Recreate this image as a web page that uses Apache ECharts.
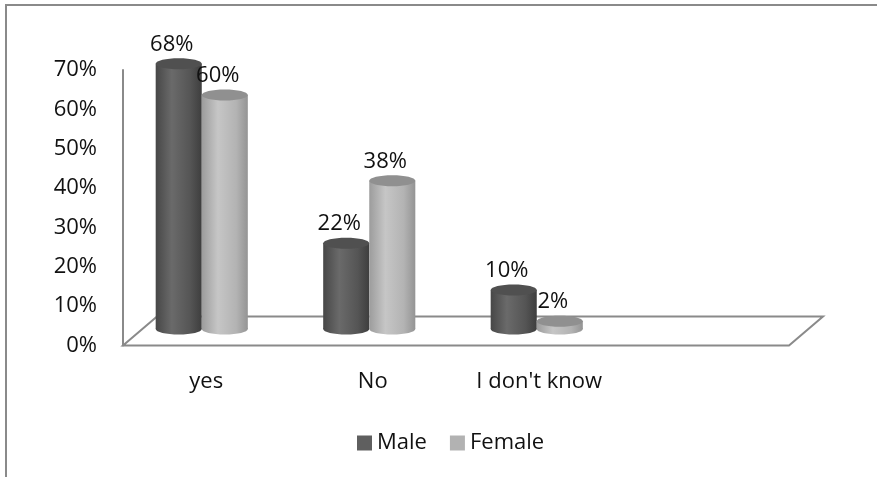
<!DOCTYPE html>
<html>
<head>
<meta charset="utf-8">
<script src="https://cdn.jsdelivr.net/npm/echarts@6/dist/echarts.min.js"></script>
<style>
  html, body { margin: 0; padding: 0; background: #fff; }
  #chart { width: 877px; height: 477px; }
</style>
</head>
<body>
<div id="chart"></div>
<script>
const categories = ['yes', 'No', "I don't know", ''];
const maleValues = [68, 22, 10];
const femaleValues = [60, 38, 2];
const yMin = 0, yMax = 70, yStep = 10;

const FONT = 'Open Sans';
const FS = 22;
const frameColor = '#8a8a8a';

// front plane carries the axes, cylinders stand a bit deeper
const front = { left: 123, right: 88, top: 70, bottom: 131.5 };
const depth = { dx: 34, dy: -29 };
const back = { left: 118, right: 89, top: 56, bottom: 148 };

function cylinderItem(side, stops, capColor) {
    return function (params, api) {
        const cat = api.value(0);
        const val = api.value(1);
        const top = api.coord([cat, val]);
        const base = api.coord([cat, 0]);
        const band = api.size([1, 0])[0];
        const w = band * 0.275;
        const cx = top[0] + side * w / 2;
        const ry = 5.5;
        const grad = { type: 'linear', x: 0, y: 0, x2: 1, y2: 0, colorStops: stops };
        return {
            type: 'group',
            children: [
                { type: 'ellipse', shape: { cx: cx, cy: base[1], rx: w / 2, ry: ry }, style: { fill: grad } },
                { type: 'rect', shape: { x: cx - w / 2, y: top[1], width: w, height: base[1] - top[1] }, style: { fill: grad } },
                { type: 'ellipse', shape: { cx: cx, cy: top[1], rx: w / 2, ry: ry }, style: { fill: capColor } },
                {
                    type: 'text', z2: 10,
                    style: {
                        text: val + '%', x: cx - 7, y: top[1] - 19,
                        align: 'center', verticalAlign: 'middle',
                        font: FS + 'px "' + FONT + '"', fill: '#111'
                    }
                }
            ]
        };
    };
}

const maleStops = [
    { offset: 0, color: '#474747' },
    { offset: 0.35, color: '#6a6a6a' },
    { offset: 0.75, color: '#555555' },
    { offset: 1, color: '#3e3e3e' }
];
const femaleStops = [
    { offset: 0, color: '#9c9c9c' },
    { offset: 0.35, color: '#c6c6c6' },
    { offset: 0.75, color: '#b3b3b3' },
    { offset: 1, color: '#949494' }
];

const fl = front.left, fr = 877 - front.right, fy = 477 - front.bottom;

const chart = echarts.init(document.getElementById('chart'), null, { renderer: 'canvas' });

chart.setOption({
    animation: false,
    backgroundColor: '#fff',
    textStyle: { fontFamily: FONT },
    graphic: [
        {
            type: 'rect', z: 0, silent: true,
            shape: { x: 6, y: 5, width: 900, height: 500 },
            style: { fill: 'none', stroke: frameColor, lineWidth: 2 }
        },
        {
            type: 'polygon', z: 0, silent: true,
            shape: { points: [[fl, fy], [fr, fy], [fr + depth.dx, fy + depth.dy], [fl + depth.dx, fy + depth.dy]] },
            style: { fill: 'none', stroke: frameColor, lineWidth: 2 }
        }
    ],
    legend: {
        data: ['Male', 'Female'],
        left: 352, top: 427,
        icon: 'rect', itemWidth: 15, itemHeight: 15, itemGap: 23,
        textStyle: { fontSize: FS, color: '#111', fontFamily: FONT }
    },
    grid: [
        { left: front.left, right: front.right, top: front.top, bottom: front.bottom },
        { left: back.left, right: back.right, top: back.top, bottom: back.bottom }
    ],
    xAxis: [
        {
            type: 'category', gridIndex: 0, data: categories,
            axisLine: { show: false }, axisTick: { show: false },
            axisLabel: { fontSize: FS, color: '#111', margin: 25, fontFamily: FONT }
        },
        { type: 'category', gridIndex: 1, data: categories, show: false }
    ],
    yAxis: [
        {
            type: 'value', gridIndex: 0, min: yMin, max: yMax, interval: yStep,
            axisLine: { show: true, lineStyle: { color: frameColor, width: 2 } },
            axisTick: { show: false }, splitLine: { show: false },
            axisLabel: { formatter: '{value}%', fontSize: FS, color: '#111', margin: 26, fontFamily: FONT }
        },
        { type: 'value', gridIndex: 1, min: yMin, max: yMax, interval: yStep, show: false, splitLine: { show: false } }
    ],
    series: [
        {
            name: 'Male', type: 'custom', xAxisIndex: 1, yAxisIndex: 1, z: 5,
            itemStyle: { color: '#5f5f5f' },
            encode: { x: 0, y: 1 },
            renderItem: cylinderItem(-1, maleStops, '#505050'),
            data: maleValues.map((v, i) => [i, v])
        },
        {
            name: 'Female', type: 'custom', xAxisIndex: 1, yAxisIndex: 1, z: 5,
            itemStyle: { color: '#b2b2b2' },
            encode: { x: 0, y: 1 },
            renderItem: cylinderItem(1, femaleStops, '#909090'),
            data: femaleValues.map((v, i) => [i, v])
        }
    ]
});
</script>
</body>
</html>
